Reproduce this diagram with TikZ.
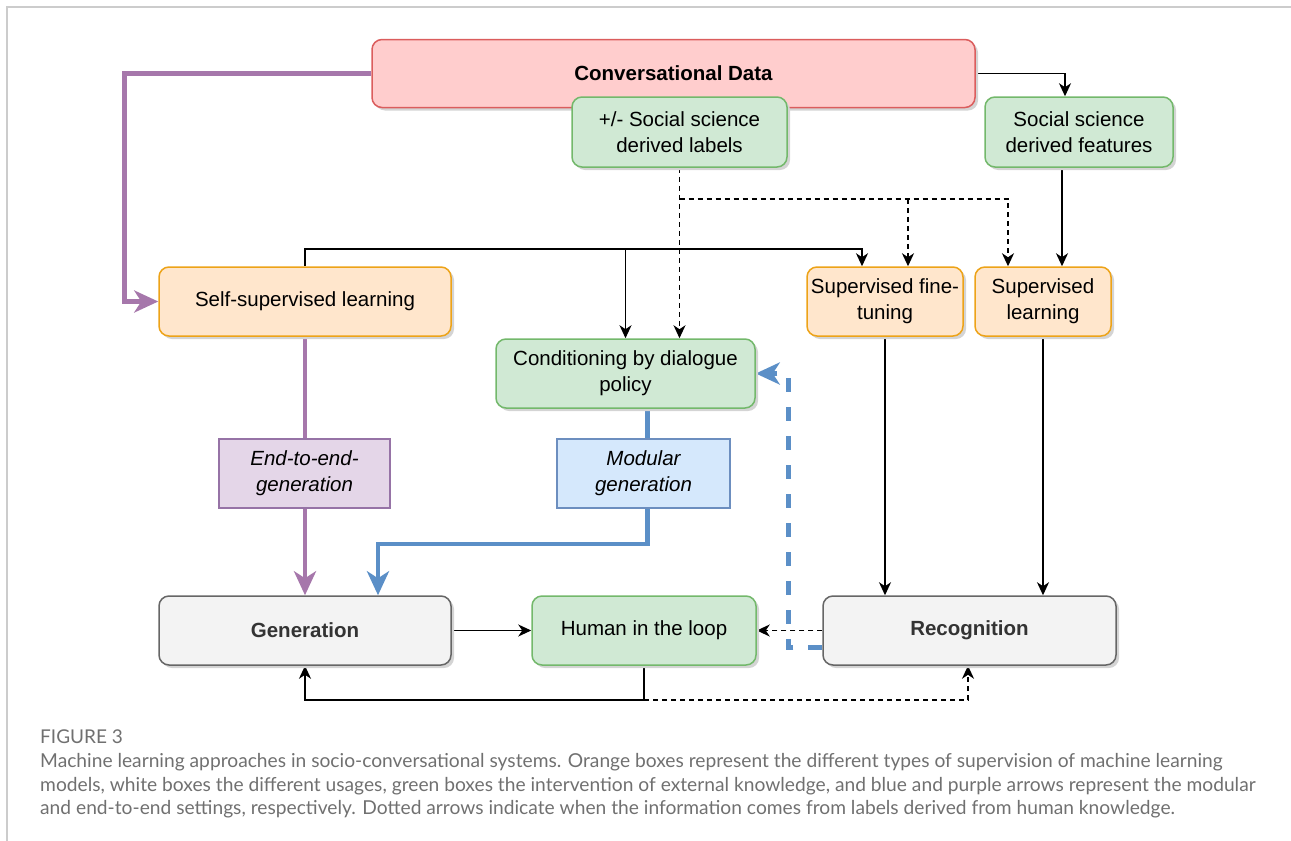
\documentclass[tikz,border=0pt]{standalone}
\usepackage{fontspec}
\setmainfont{Liberation Sans}
\newfontfamily\capfont{Lato}
\usetikzlibrary{arrows.meta,shadows,calc}
\pgfdeclarelayer{bg}
\pgfsetlayers{bg,main}
\definecolor{redF}{HTML}{FFCDCD}
\definecolor{redS}{HTML}{DB5D5D}
\definecolor{grnF}{HTML}{D0E9D4}
\definecolor{grnS}{HTML}{73B86B}
\definecolor{orgF}{HTML}{FFE6CC}
\definecolor{orgS}{HTML}{EDA318}
\definecolor{gryF}{HTML}{F3F3F3}
\definecolor{gryS}{HTML}{666666}
\definecolor{gryT}{HTML}{333333}
\definecolor{purF}{HTML}{E4D6E8}
\definecolor{purS}{HTML}{9673A6}
\definecolor{purA}{HTML}{A677AB}
\definecolor{bluF}{HTML}{D5E8FC}
\definecolor{bluS}{HTML}{6C8EBF}
\definecolor{bluA}{HTML}{5B8FC7}
\definecolor{capG}{HTML}{707070}
\definecolor{frameG}{HTML}{CCCCCC}
\begin{document}
\begin{tikzpicture}[x=1pt,y=-1pt,
  box/.style={draw, line width=1.5pt, rounded corners=10pt, align=center, inner sep=0pt,
    font=\fontsize{20.5}{26}\selectfont,
    general shadow={fill=black!17, shadow xshift=3pt, shadow yshift=-3pt}},
  redbox/.style={box, fill=redF, draw=redS},
  grnbox/.style={box, fill=grnF, draw=grnS},
  orgbox/.style={box, fill=orgF, draw=orgS},
  grybox/.style={box, fill=gryF, draw=gryS, text=gryT, font=\fontsize{20.5}{26}\selectfont\bfseries},
  lblbox/.style={draw, line width=1.2pt, align=center, inner sep=0pt,
    font=\fontsize{20.5}{26}\selectfont\itshape},
  arr/.style={line width=1.6pt, -{Stealth[length=13pt,width=12pt,inset=4pt]}},
  dsh/.style={arr, dash pattern=on 5pt off 4pt},
  parr/.style={line width=4.5pt, draw=purA, -{Stealth[length=24pt,width=22pt,inset=7pt]}},
  barr/.style={line width=4.5pt, draw=bluA, -{Stealth[length=24pt,width=22pt,inset=7pt]}},
  capt/.style={anchor=west, inner sep=0pt, text=capG, font=\capfont\fontsize{19.2}{22}\selectfont}
]
\useasboundingbox (0,0) rectangle (1291,841);
\draw[frameG, line width=1.5pt] (7,841) -- (7,7) -- (1291,7);

% nodes
\node[redbox, minimum width=603pt, minimum height=68pt, font=\fontsize{20.5}{26}\selectfont\bfseries] (data) at (673.5,73.5) {Conversational Data};
\node[grnbox, minimum width=215pt, minimum height=70pt] (labels) at (679.5,132) {+/- Social science\\derived labels};
\node[grnbox, minimum width=188pt, minimum height=70pt] (feat) at (1079,132) {Social science\\derived features};
\node[orgbox, minimum width=292pt, minimum height=69pt] (ssl) at (305,301.5) {Self-supervised learning};
\node[orgbox, minimum width=156pt, minimum height=69pt] (sft) at (885,301.5) {Supervised fine-\\tuning};
\node[orgbox, minimum width=136pt, minimum height=69pt] (sl) at (1043,301.5) {Supervised\\learning};
\node[grnbox, minimum width=259pt, minimum height=69pt] (cond) at (625.5,373.5) {Conditioning by dialogue\\policy};
\node[lblbox, fill=purF, draw=purS, minimum width=171pt, minimum height=69pt] (e2e) at (304.5,473.5) {End-to-end-\\generation};
\node[lblbox, fill=bluF, draw=bluS, minimum width=173pt, minimum height=69pt] (mod) at (643.5,473.5) {Modular\\generation};
\node[grybox, minimum width=292pt, minimum height=69pt] (gen) at (305,630.5) {Generation};
\node[grnbox, minimum width=224pt, minimum height=69pt] (hil) at (644,630.5) {Human in the loop};
\node[grybox, minimum width=293pt, minimum height=69pt] (rec) at (969.5,630.5) {Recognition};

% caption
\node[capt, font=\capfont\fontsize{19}{22}\selectfont] (fig) at (40,737) {FIGURE 3};
\node[capt] (c1) at (40,762) {Machine learning approaches in socio-conversational systems. Orange boxes represent the different types of supervision of machine learning};
\node[capt] (c2) at (40,786) {models, white boxes the different usages, green boxes the intervention of external knowledge, and blue and purple arrows represent the modular};
\node[capt] (c3) at (40,809) {and end-to-end settings, respectively. Dotted arrows indicate when the information comes from labels derived from human knowledge.};

\begin{pgfonlayer}{bg}
% purple from data to ssl
\draw[parr] (data.west) -- ++(-247,0) |- (ssl.west);
% data -> features
\draw[arr] (data.east) -| ([xshift=-14pt]feat.north);
% features -> supervised learning
\draw[arr] ([xshift=-17pt]feat.south) -- ([xshift=-17pt]feat.south |- sl.north);
% dashed from labels
\coordinate (d1) at ($(labels.south)+(0,31)$);
\draw[dsh] (labels.south) -- (labels.south |- cond.north);
\draw[dsh] (d1) -| ([xshift=-35pt]sl.north);
\draw[dsh] ([xshift=23pt]sft.north |- d1) -- ([xshift=23pt]sft.north);
% solid from ssl
\coordinate (s1) at ($(ssl.north)+(0,-17)$);
\draw[arr] (ssl.north) -- (s1) -| ([xshift=-23pt]sft.north);
\draw[arr] (cond.north |- s1) -- (cond.north);
% blue modular
\draw[barr] ([xshift=22pt]cond.south) -- ++(0,135) -| ([xshift=73pt]gen.north);
% purple end-to-end
\draw[parr] (ssl.south) -- (gen.north);
% supervised -> recognition
\draw[arr] (sft.south) -- (sft.south |- rec.north);
\draw[arr] (sl.south) -- (sl.south |- rec.north);
% generation -> human
\draw[arr] (gen.east) -- (hil.west);
% recognition -> human (dashed)
\draw[dsh] (rec.west) -- (hil.east);
% blue dashed from recognition to conditioning
\draw[barr, dash pattern=on 14pt off 15pt] ([yshift=-17pt]rec.west) -- ++(-34,0) |- (cond.east);
% human -> generation
\coordinate (h1) at ($(hil.south)+(0,34)$);
\draw[arr] (hil.south) -- (h1) -| (gen.south);
\draw[dsh] (h1) -| ([xshift=-1.5pt]rec.south);
\end{pgfonlayer}
\end{tikzpicture}
\end{document}
